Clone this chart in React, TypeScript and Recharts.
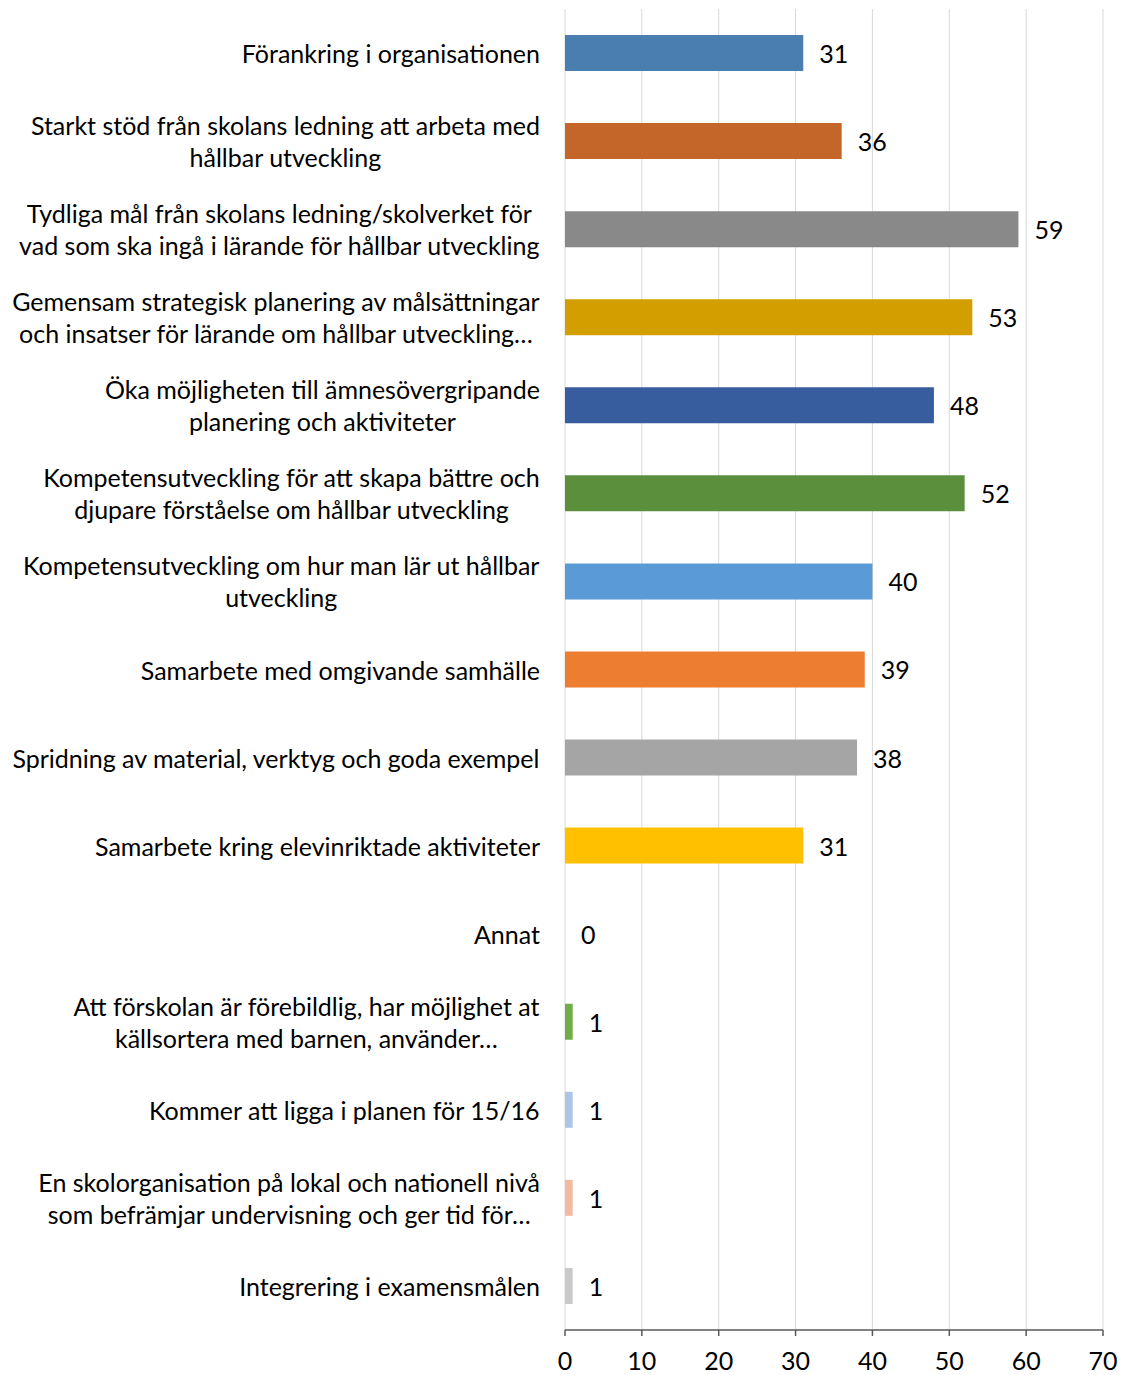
import React from 'react';
import { BarChart, Bar, XAxis, YAxis, CartesianGrid, Cell, LabelList } from 'recharts';

const categories = [
  'Förankring i organisationen',
  'Starkt stöd från skolans ledning att arbeta med\nhållbar utveckling',
  'Tydliga mål från skolans ledning/skolverket för\nvad som ska ingå i lärande för hållbar utveckling',
  'Gemensam strategisk planering av målsättningar\noch insatser för lärande om hållbar utveckling…',
  'Öka möjligheten till ämnesövergripande\nplanering och aktiviteter',
  'Kompetensutveckling för att skapa bättre och\ndjupare förståelse om hållbar utveckling',
  'Kompetensutveckling om hur man lär ut hållbar\nutveckling',
  'Samarbete med omgivande samhälle',
  'Spridning av material, verktyg och goda exempel',
  'Samarbete kring elevinriktade aktiviteter',
  'Annat',
  'Att förskolan är förebildlig, har möjlighet at\nkällsortera med barnen, använder…',
  'Kommer att ligga i planen för 15/16',
  'En skolorganisation på lokal och nationell nivå\nsom befrämjar undervisning och ger tid för…',
  'Integrering i examensmålen',
];

const values = [31, 36, 59, 53, 48, 52, 40, 39, 38, 31, 0, 1, 1, 1, 1];

const barColors = [
  '#4A7EB0', '#C4662A', '#898989', '#D29E00', '#385D9F',
  '#5B8F3B', '#5B9BD5', '#ED7D31', '#A5A5A5', '#FFC000',
  '#4472C4', '#70AD47', '#ADC5E7', '#F4B9A1', '#C9C9C9',
];

const xTicks = [0, 10, 20, 30, 40, 50, 60, 70];

const data = categories.map((name, i) => ({ name, value: values[i] }));

const FONT = 'Lato, "DejaVu Sans", sans-serif';
const FS = 25;

let ctx: CanvasRenderingContext2D | null = null;
const measure = (s: string) => {
  if (!ctx) ctx = document.createElement('canvas').getContext('2d');
  if (!ctx) return s.length * FS * 0.5;
  ctx.font = `${FS}px ${FONT}`;
  return ctx.measureText(s).width;
};

const CategoryTick = (props: any) => {
  const { x, y, payload } = props;
  const lines: string[] = String(payload.value).split('\n');
  const w = Math.max(...lines.map(measure));
  const cx = x - w / 2;
  const top = y - ((lines.length - 1) * 32) / 2;
  return (
    <g>
      {lines.map((l, i) => (
        <text key={i} x={cx} y={top + i * 32} textAnchor="middle" dominantBaseline="central"
          fontFamily={FONT} fontSize={FS} fill="#000">
          {l}
        </text>
      ))}
    </g>
  );
};

// draws the value next to the bar end, also for zero-length bars
const ValueLabel = (props: any) => {
  const { x, y, width, height, value } = props;
  return (
    <text x={Number(x) + Number(width || 0) + 16} y={Number(y) + Number(height) / 2}
      dominantBaseline="central" fontFamily={FONT} fontSize={FS} fill="#000">
      {value}
    </text>
  );
};

export default function App() {
  return (
    <div style={{ position: 'absolute', left: 0, top: 0, background: '#fff' }}>
      <BarChart width={1123} height={1375} data={data} layout="vertical"
        margin={{ top: 9, right: 20, bottom: 0, left: 0 }}>
        <CartesianGrid horizontal={false} stroke="#D9D9D9" strokeWidth={1} />
        <XAxis type="number" domain={[0, 70]} ticks={xTicks} interval={0} height={45}
          axisLine={{ stroke: '#595959', strokeWidth: 1.5 }}
          tickLine={{ stroke: '#595959', strokeWidth: 1.5 }} tickSize={6} tickMargin={16}
          tick={{ fill: '#000', fontSize: FS, fontFamily: FONT }} />
        <YAxis type="category" dataKey="name" width={565} interval={0}
          axisLine={false} tickLine={false} tickSize={0} tickMargin={25}
          tick={<CategoryTick />} />
        <Bar dataKey="value" barSize={36} isAnimationActive={false}
          minPointSize={(v: number) => (v === 0 ? 0.01 : 0)}>
          {data.map((d, i) => (
            <Cell key={`cell-${i}`} fill={barColors[i]} />
          ))}
          <LabelList dataKey="value" content={<ValueLabel />} />
        </Bar>
      </BarChart>
    </div>
  );
}
